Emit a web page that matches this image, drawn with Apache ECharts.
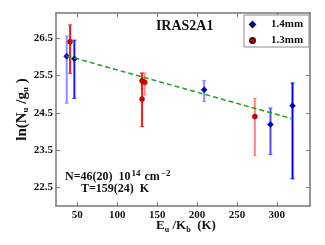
<!DOCTYPE html>
<html><head><meta charset="utf-8">
<script src="https://cdn.jsdelivr.net/npm/echarts@6/dist/echarts.min.js"></script>
<style>html,body{margin:0;padding:0;background:#fff}#c{width:325px;height:245px}</style>
</head><body><div id="c"></div>
<script>
// ---- data ----
const xTicks = [50, 100, 150, 200, 250, 300];
const yTicks = [22.5, 23.5, 24.5, 25.5, 26.5];
const blueX    = [36.7, 46.3, 208.9, 292.0, 319.6];
const blueY    = [26.02, 25.95, 25.12, 24.19, 24.69];
const blueLow  = [24.76, 24.89, 24.80, 23.38, 22.73];
const blueHigh = [26.56, 26.45, 25.37, 24.63, 25.30];
const redX     = [40.9, 131.1, 131.1, 134.5, 272.4];
const redY     = [26.41, 25.36, 24.87, 25.32, 24.40];
const redLow   = [25.56, 25.14, 24.13, 24.98, 23.35];
const redHigh  = [26.86, 25.58, 25.56, 25.57, 24.89];
const fitX = [36.7, 319.6];
const fitY = [26.03, 24.34];

// ---- styles ----
const blueErrColors = ['#8c8cff', '#1a1aff', '#8c8cff', '#4d4dff', '#0000ff'];
const redErrColors  = ['#ff1a1a', '#ff8c8c', '#ff1a1a', '#ff8c8c', '#ff8080'];
const FONT = '"Liberation Serif", "DejaVu Serif", serif';
const FRAME = '#777';

function errSeries(xs, lo, hi, colors) {
  return {
    type: 'custom', silent: true, z: 2,
    data: xs.map((x, i) => [x, lo[i], hi[i]]),
    encode: { x: 0, y: [1, 2] },
    renderItem: (params, api) => {
      const x = api.value(0);
      const p1 = api.coord([x, api.value(1)]);
      const p2 = api.coord([x, api.value(2)]);
      const c = colors[params.dataIndex];
      const cw = 2;
      return { type: 'group', children: [
        { type: 'line', shape: { x1: p1[0], y1: p1[1], x2: p2[0], y2: p2[1] }, style: { stroke: c, lineWidth: 2 } },
        { type: 'line', shape: { x1: p1[0] - cw, y1: p1[1], x2: p1[0] + cw, y2: p1[1] }, style: { stroke: c, lineWidth: 1 } },
        { type: 'line', shape: { x1: p2[0] - cw, y1: p2[1], x2: p2[0] + cw, y2: p2[1] }, style: { stroke: c, lineWidth: 1 } }
      ]};
    }
  };
}

const frameAxis = (extra) => Object.assign({
  type: 'value',
  axisLine: { show: true, onZero: false, lineStyle: { color: FRAME, width: 1.5 } },
  splitLine: { show: false }
}, extra);

const tickStyle = { lineStyle: { color: FRAME, width: 1 } };
const labelStyle = { fontFamily: FONT, fontWeight: 'bold', fontSize: 11, color: '#111' };

const chart = echarts.init(document.getElementById('c'), null, { renderer: 'canvas' });
chart.setOption({
  animation: false,
  backgroundColor: '#fff',
  grid: { left: 56, right: 15, top: 13, bottom: 39 },
  xAxis: [
    frameAxis({ min: 23.3, max: 341.5, position: 'bottom',
      axisTick: Object.assign({ show: true, inside: true, length: 4, customValues: xTicks }, tickStyle),
      axisLabel: Object.assign({ customValues: xTicks, margin: 4 }, labelStyle) }),
    frameAxis({ min: 23.3, max: 341.5, position: 'top',
      axisTick: Object.assign({ show: true, inside: true, length: 4, customValues: xTicks }, tickStyle),
      axisLabel: { show: false } })
  ],
  yAxis: [
    frameAxis({ min: 22.0, max: 27.18, position: 'left',
      axisTick: Object.assign({ show: true, inside: true, length: 4, customValues: yTicks }, tickStyle),
      axisLabel: Object.assign({ customValues: yTicks, margin: 3, formatter: v => v.toFixed(1) }, labelStyle) }),
    frameAxis({ min: 22.0, max: 27.18, position: 'right',
      axisTick: Object.assign({ show: true, inside: true, length: 4, customValues: yTicks }, tickStyle),
      axisLabel: { show: false } })
  ],
  legend: {
    orient: 'vertical', left: 244, top: 15,
    padding: [4, 6, 1, 5], itemGap: 5, itemWidth: 5, itemHeight: 5,
    borderColor: '#888', borderWidth: 1, backgroundColor: '#fff',
    textStyle: { fontFamily: FONT, fontWeight: 'bold', fontSize: 11, color: '#111', lineHeight: 11, padding: [0, 0, 0, 11] },
    data: [{ name: '1.4mm', icon: 'diamond' }, { name: '1.3mm', icon: 'circle' }]
  },
  series: [
    errSeries(blueX, blueLow, blueHigh, blueErrColors),
    errSeries(redX, redLow, redHigh, redErrColors),
    { name: '1.4mm', type: 'scatter', symbol: 'diamond', symbolSize: 6, z: 4,
      itemStyle: { color: '#0000cc', borderColor: '#000066', borderWidth: 0.5, opacity: 1 },
      data: blueX.map((x, i) => [x, blueY[i]]) },
    { name: '1.3mm', type: 'scatter', symbol: 'circle', symbolSize: 5, z: 4,
      itemStyle: { color: '#e00000', borderColor: '#600000', borderWidth: 0.5, opacity: 1 },
      data: redX.map((x, i) => [x, redY[i]]) },
    { type: 'line', silent: true, z: 5, symbol: 'none',
      lineStyle: { color: '#22a022', width: 1.5, type: [5, 3] },
      data: fitX.map((x, i) => [x, fitY[i]]) }
  ],
  graphic: [
    { type: 'text', x: 184.7, y: 26.7,
      style: { text: 'IRAS2A1', fontFamily: FONT, fontWeight: 'bold', fontSize: 14, fill: '#111', align: 'center', verticalAlign: 'middle' } },
    { type: 'text', x: 65, y: 177,
      style: { text: 'N=46(20)  10{sup|14} cm{sup|\u22122}', fontFamily: FONT, fontWeight: 'bold', fontSize: 12, fill: '#111', align: 'left', verticalAlign: 'middle',
        rich: { sup: { fontFamily: FONT, fontWeight: 'bold', fontSize: 9, fill: '#111', padding: [0, 1, 7, 1] } } } },
    { type: 'text', x: 81, y: 188.5,
      style: { text: 'T=159(24)  K', fontFamily: FONT, fontWeight: 'bold', fontSize: 12, fill: '#111', align: 'left', verticalAlign: 'middle' } },
    { type: 'text', x: 186, y: 226,
      style: { text: 'E{sub|u} /K{sub|b}  (K)', fontFamily: FONT, fontWeight: 'bold', fontSize: 13, fill: '#111', align: 'center', verticalAlign: 'middle',
        rich: { sub: { fontFamily: FONT, fontWeight: 'bold', fontSize: 8, fill: '#111', padding: [7, 0, 0, 0] } } } },
    { type: 'text', x: 22, y: 109.5, rotation: Math.PI / 2,
      style: { text: 'ln(N{sub|u} /g{sub|u} )', fontFamily: FONT, fontWeight: 'bold', fontSize: 15, fill: '#111', align: 'center', verticalAlign: 'middle',
        rich: { sub: { fontFamily: FONT, fontWeight: 'bold', fontSize: 9, fill: '#111', padding: [7, 0, 0, 0] } } } }
  ]
});
</script></body></html>
